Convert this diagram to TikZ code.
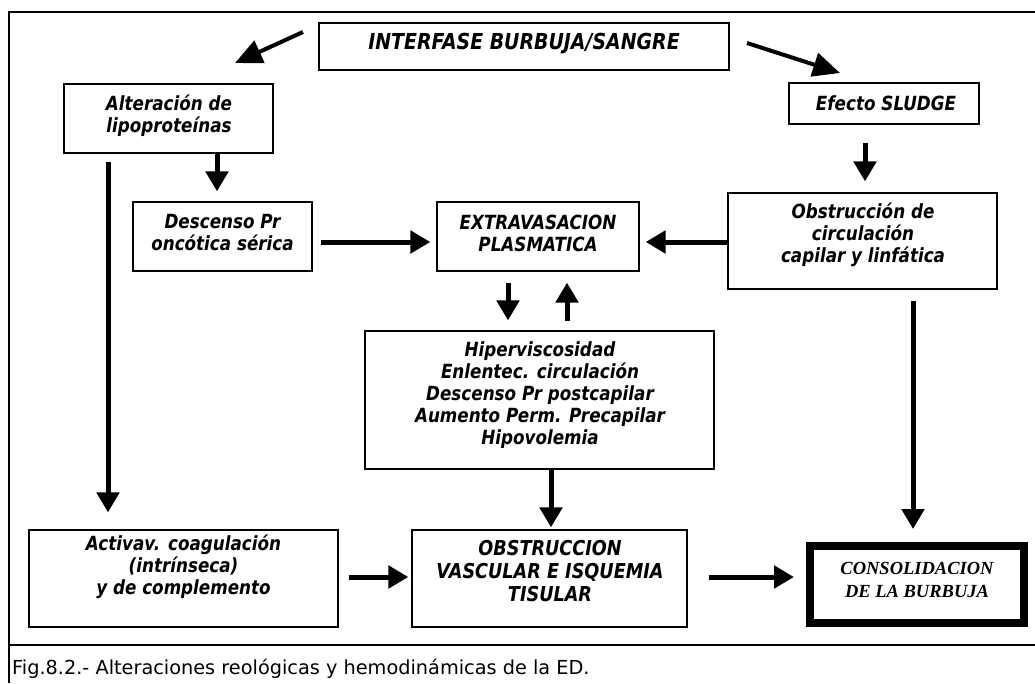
\documentclass[tikz,border=0pt]{standalone}
\usepackage{fontspec}
\usetikzlibrary{arrows.meta,calc}
\newfontfamily\tahfont[FakeStretch=0.86]{DejaVu Sans}
\newfontfamily\capfont{DejaVu Sans}
\newfontfamily\tmsfont{Liberation Serif}
\begin{document}
\begin{tikzpicture}[x=1pt,y=-1pt,
  box/.style={draw=black,line width=1.2pt,rectangle,inner sep=0pt,fill=white},
  txt/.style={align=center,inner sep=0pt,font=\tahfont\bfseries\itshape\fontsize{19.5}{22}\selectfont},
  arr/.style={line width=5pt,-{Triangle[width=22pt,length=20pt]}},
  darr/.style={line width=4pt,-{Triangle[width=24pt,length=27pt]}}]
\useasboundingbox (0,0) rectangle (1035,683);
% frame
\draw[line width=1.5pt] (1035,12) -- (9,12) -- (9,683);
\draw[line width=1.5pt] (9,645) -- (1035,645);
\node[anchor=base west,inner sep=0pt,font=\capfont\fontsize{19.3}{23}\selectfont] (cap) at (12,674) {Fig.8.2.- Alteraciones reológicas y hemodinámicas de la ED.};
% boxes
\node[box,minimum width=410,minimum height=47] (inter) at (524,46.5) {};
\node[box,minimum width=209,minimum height=69] (alt) at (168.5,118.5) {};
\node[box,minimum width=190,minimum height=41] (sludge) at (884,103.5) {};
\node[box,minimum width=179,minimum height=69] (desc) at (222.5,236.5) {};
\node[box,minimum width=202,minimum height=69] (extra) at (538,236.5) {};
\node[box,minimum width=269,minimum height=96] (obst) at (862.5,241) {};
\node[box,minimum width=349,minimum height=138] (hiper) at (539.5,400) {};
\node[box,minimum width=309,minimum height=97] (activ) at (183.5,578.5) {};
\node[box,minimum width=275,minimum height=97] (obstr) at (549.5,578.5) {};
\node[draw=black,line width=8pt,rectangle,inner sep=0pt,minimum width=214,minimum height=77] (consol) at (917,584.5) {};
% texts
\node[txt,font=\tahfont\bfseries\itshape\fontsize{22}{24}\selectfont] (interT) at (524,44) {INTERFASE BURBUJA/SANGRE};
\node[txt] (altT) at (169,116) {Alteración de\\lipoproteínas};
\node[txt] (sludgeT) at (886,103.5) {Efecto SLUDGE};
\node[txt] (descT) at (222.5,233) {Descenso Pr\\oncótica sérica};
\node[txt] (extraT) at (538,233.5) {EXTRAVASACION\\PLASMATICA};
\node[txt] (obstT) at (863,235) {Obstrucción de\\circulación\\capilar y linfática};
\node[txt] (hiperT) at (540,395) {Hiperviscosidad\\Enlentec. circulación\\Descenso Pr postcapilar\\Aumento Perm. Precapilar\\Hipovolemia};
\node[txt] (activT) at (183.5,567) {Activav. coagulación\\(intrínseca)\\y de complemento};
\node[txt,font=\tahfont\bfseries\itshape\fontsize{20.5}{23}\selectfont] (obstrT) at (550,571) {OBSTRUCCION\\VASCULAR E ISQUEMIA\\TISULAR};
\node[align=center,inner sep=0pt,font=\tmsfont\bfseries\itshape\fontsize{18.5}{23}\selectfont] (consolT) at (917,580) {CONSOLIDACION\\DE LA BURBUJA};
% coordinates
\coordinate (a1s) at (303,32);
\coordinate (a1e) at (235,63);
\coordinate (a2s) at (747,43);
\coordinate (a2e) at (840,73);
\coordinate (c108) at (108,0);
\coordinate (c217) at (217,0);
\coordinate (c865) at (865,0);
\coordinate (c508) at (508,0);
\coordinate (c567) at (567,0);
\coordinate (c551) at (551,0);
\coordinate (c913) at (913,0);
\coordinate (r242) at (0,242);
\coordinate (r577) at (0,577);
% arrows
\draw[darr] (a1s) -- (a1e);
\draw[darr] (a2s) -- (a2e);
\draw[arr,shorten >=10pt] (alt.south -| c217) -- (desc.north -| c217);
\draw[arr,shorten <=8pt,shorten >=17pt] (alt.south -| c108) -- (activ.north -| c108);
\draw[arr,shorten <=18pt,shorten >=11pt] (sludge.south -| c865) -- (obst.north -| c865);
\draw[arr,shorten <=8pt,shorten >=6pt] (desc.east |- r242) -- (extra.west |- r242);
\draw[arr,shorten >=6pt] (obst.west |- r242) -- (extra.east |- r242);
\draw[arr,shorten <=11pt,shorten >=10pt] (extra.south -| c508) -- (hiper.north -| c508);
\draw[arr,shorten <=9pt,shorten >=11pt] (hiper.north -| c567) -- (extra.south -| c567);
\draw[arr,shorten <=11pt,shorten >=13pt] (obst.south -| c913) -- (consol.north -| c913);
\draw[arr,shorten >=2pt] (hiper.south -| c551) -- (obstr.north -| c551);
\draw[arr,shorten <=10pt,shorten >=3pt] (activ.east |- r577) -- (obstr.west |- r577);
\draw[arr,shorten <=21pt,shorten >=12pt] (obstr.east |- r577) -- (consol.west |- r577);
\end{tikzpicture}
\end{document}
